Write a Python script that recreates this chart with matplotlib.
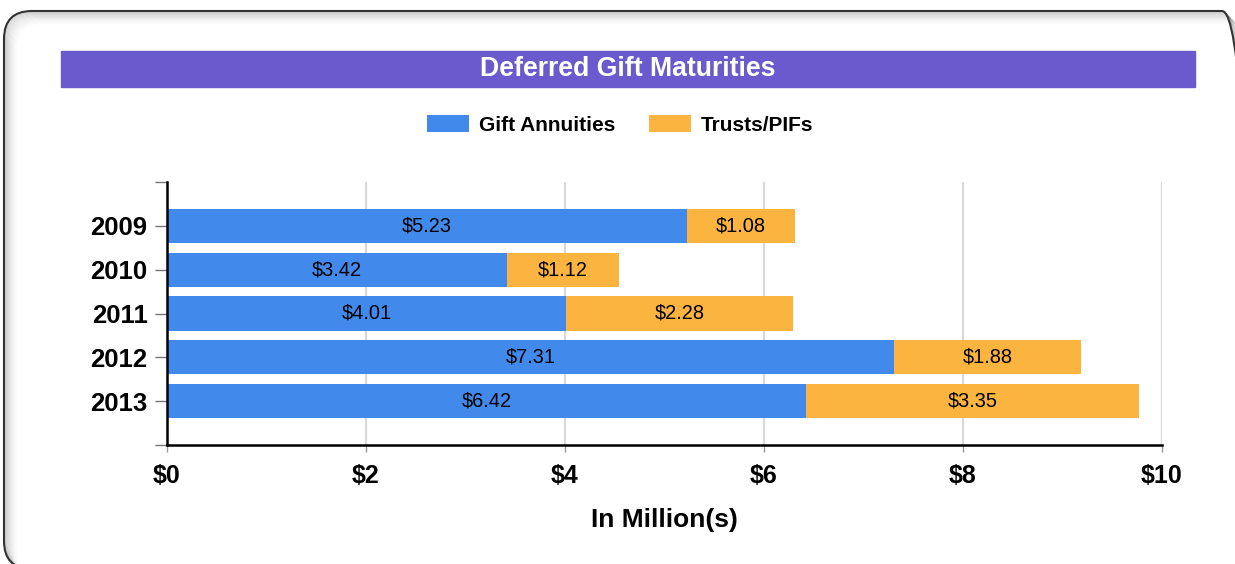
import matplotlib.pyplot as plt
from matplotlib.patches import FancyBboxPatch, Rectangle

# datos del grafico
years = ["2009", "2010", "2011", "2012", "2013"]
gift_annuities = [5.23, 3.42, 4.01, 7.31, 6.42]
trusts_pifs = [1.08, 1.12, 2.28, 1.88, 3.35]
x_ticks = [0, 2, 4, 6, 8, 10]

plt.rcParams['font.family'] = ['Liberation Sans', 'DejaVu Sans']

W, H = 1235, 564
fig = plt.figure(figsize=(W / 100, H / 100), dpi=100)

# fondo: caja redondeada con sombra y banda del titulo (coordenadas en pixeles, y hacia arriba)
bg = fig.add_axes([0, 0, 1, 1], zorder=0)
bg.set_xlim(0, W)
bg.set_ylim(0, H)
bg.axis('off')
box_l, box_t, box_r, box_b = 4, 11, 1250, 569
# sombra interior solo arriba e izquierda
for i in range(1, 14):
    a = 0.14 * (1 - i / 14) ** 1.5
    bg.add_patch(FancyBboxPatch((box_l + i, H - box_b - i), box_r - box_l,
                                box_b - box_t,
                                boxstyle="round,pad=0,rounding_size=28",
                                fill=False, ec=(0, 0, 0, a), lw=1.2))
bg.add_patch(FancyBboxPatch((box_l, H - box_b), box_r - box_l, box_b - box_t,
                            boxstyle="round,pad=0,rounding_size=28",
                            fill=False, ec='#333333', lw=1.5))
bg.add_patch(Rectangle((61, H - 87), 1134, 36, color='#6A5ACD'))
fig.text(628 / W, 1 - 69 / H, "Deferred Gift Maturities", color='white',
         fontsize=19.2, fontweight='bold', ha='center', va='center')

# grafico de barras
ax = fig.add_axes([167 / W, (H - 445) / H, 995 / W, 263 / H], zorder=1)
ax.set_facecolor('none')
pos = list(range(len(years)))
b1 = ax.barh(pos, gift_annuities, height=0.78, color='#418AEC', label="Gift Annuities")
b2 = ax.barh(pos, trusts_pifs, left=gift_annuities, height=0.78, color='#FCB441',
             label="Trusts/PIFs")
ax.bar_label(b1, labels=[f"${v:.2f}" for v in gift_annuities], label_type='center', fontsize=14.4)
ax.bar_label(b2, labels=[f"${v:.2f}" for v in trusts_pifs], label_type='center', fontsize=14.4)

ax.set_xlim(0, 10)
ax.set_ylim(5, -1)
ax.set_yticks(list(range(-1, 6)))
ax.set_yticklabels([""] + years + [""], fontsize=18.5, fontweight='bold')
ax.set_xticks(x_ticks)
ax.set_xticklabels([f"${t}" for t in x_ticks], fontsize=18, fontweight='bold')
ax.tick_params(axis='y', length=9, width=1, color='#777777', pad=5)
ax.tick_params(axis='x', length=5, width=1, color='#999999', pad=9)
ax.xaxis.grid(True, color='#d9d9d9', lw=1.6)
ax.set_axisbelow(True)
for s in ['top', 'right']:
    ax.spines[s].set_visible(False)
for s in ['left', 'bottom']:
    ax.spines[s].set_linewidth(1.8)
    ax.spines[s].set_color('black')
ax.set_xlabel("In Million(s)", fontsize=19, fontweight='bold', labelpad=14)

fig.legend(handles=[b1, b2], loc='center', bbox_to_anchor=(620.5 / W, 1 - 125 / H), ncol=2,
           frameon=False, prop={'weight': 'bold', 'size': 15}, handlelength=2.0,
           handleheight=0.87, handletextpad=0.5, columnspacing=1.6)

fig.savefig("out.png", dpi=100)
